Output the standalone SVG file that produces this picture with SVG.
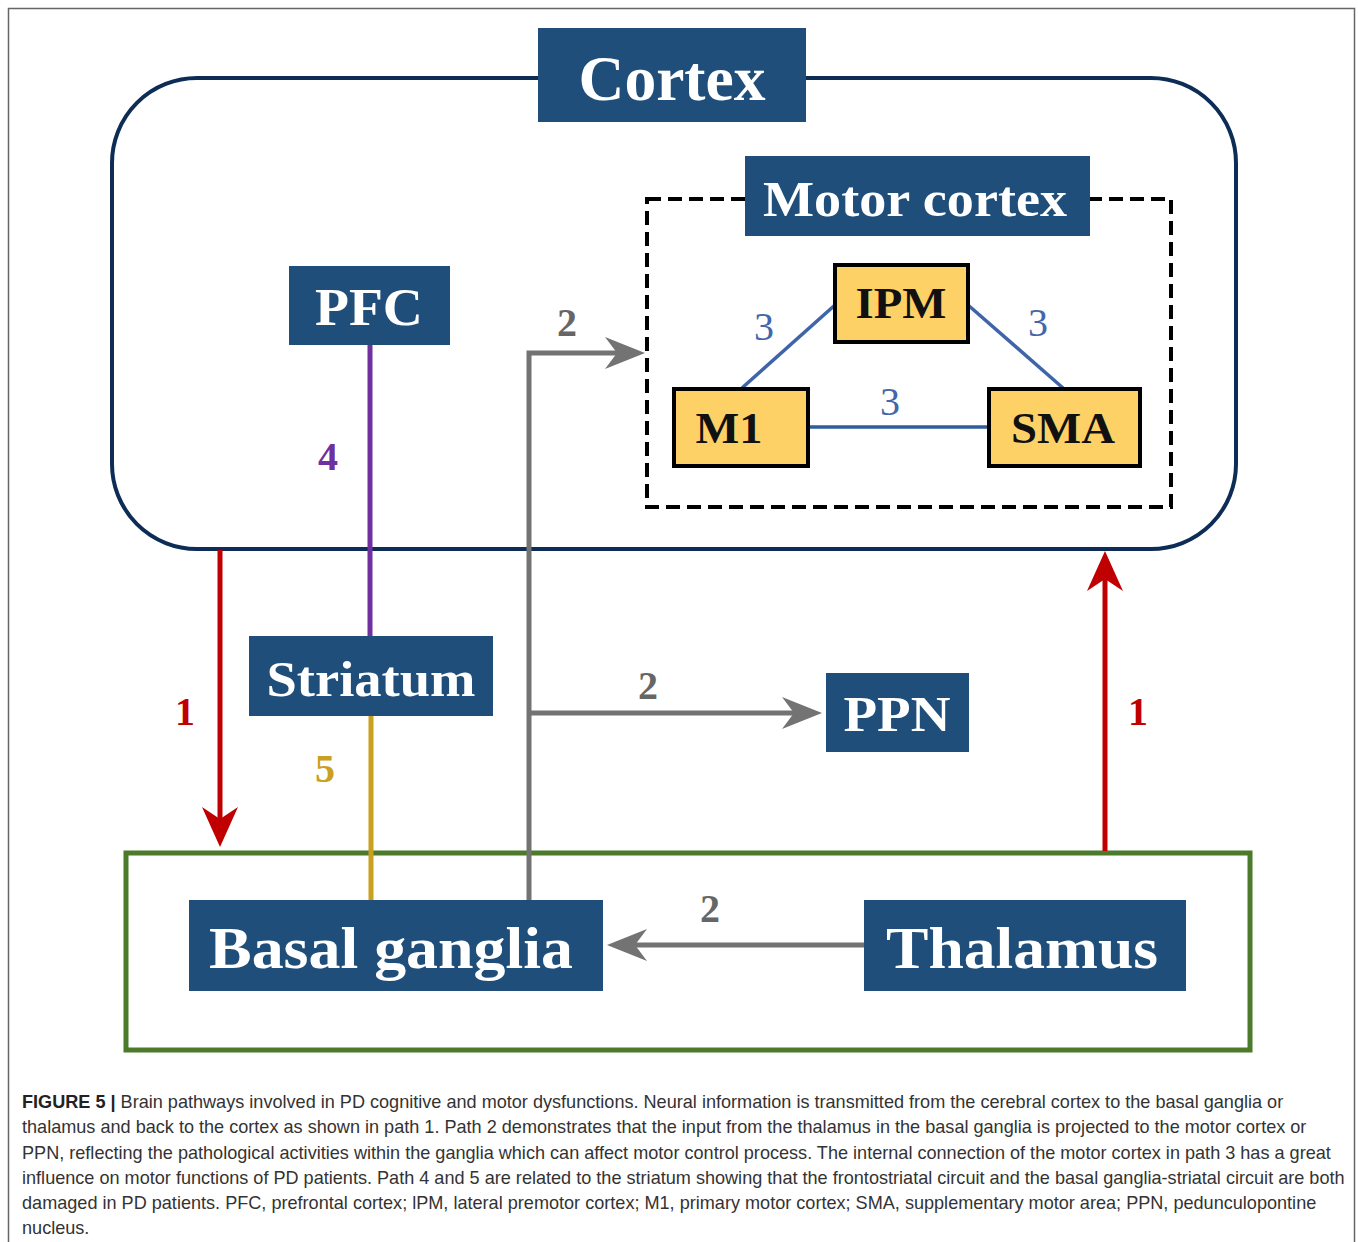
<svg xmlns="http://www.w3.org/2000/svg" width="1358" height="1242" viewBox="0 0 1358 1242">
<style>
.box{fill:#1f4e7a;}
.lbl{font-family:"Liberation Serif",serif;font-weight:bold;fill:#fff;text-anchor:middle;}
.ybox{fill:#fdd166;stroke:#000;stroke-width:4;}
.ylbl{font-family:"Liberation Serif",serif;font-weight:bold;fill:#111;text-anchor:middle;font-size:45px;}
.num{font-family:"Liberation Serif",serif;font-weight:bold;font-size:40px;text-anchor:middle;}
.thin{font-weight:normal;fill:#4466aa;}
.cap{font-family:"Liberation Sans",Arial,sans-serif;font-size:18.1px;fill:#333;}
</style>
<defs>
<marker id="ar" markerUnits="userSpaceOnUse" markerWidth="40" markerHeight="40" viewBox="0 0 40 40" refX="25" refY="20" orient="auto">
<path d="M0,2 L40,20 L0,38 L12,20 z" fill="#c00000"/>
</marker>
<marker id="ag" markerUnits="userSpaceOnUse" markerWidth="40" markerHeight="36" viewBox="0 0 40 36" refX="25" refY="18" orient="auto">
<path d="M0,2 L40,18 L0,34 L12,18 z" fill="#737373"/>
</marker>
</defs>
<rect x="0" y="0" width="1358" height="1242" fill="#fff"/>
<rect x="8.5" y="8.5" width="1346" height="1245" fill="none" stroke="#666" stroke-width="1.5"/>

<g id="cortex-region">
<rect x="112" y="78" width="1124" height="471" rx="85" ry="85" fill="none" stroke="#0d2d57" stroke-width="4"/>
</g>
<g id="motor-cortex-region">
<rect x="647" y="199" width="524" height="308" fill="none" stroke="#000" stroke-width="4" stroke-dasharray="14 7"/>
</g>
<g id="basal-region">
<rect x="126" y="853" width="1124" height="197" fill="none" stroke="#4a7a2a" stroke-width="5"/>
</g>

<g id="connectors" fill="none">
<line x1="835" y1="305" x2="742" y2="388" stroke="#3f64a8" stroke-width="3.5"/>
<line x1="968" y1="305" x2="1063" y2="388" stroke="#3f64a8" stroke-width="3.5"/>
<line x1="808" y1="427" x2="989" y2="427" stroke="#2f5c9a" stroke-width="3.5"/>
<line x1="370" y1="345" x2="370" y2="636" stroke="#7030a0" stroke-width="5"/>
<line x1="371" y1="716" x2="371" y2="900" stroke="#c9a020" stroke-width="5"/>
<line x1="220" y1="550" x2="220" y2="832" stroke="#c00000" stroke-width="5" marker-end="url(#ar)"/>
<line x1="1105" y1="851" x2="1105" y2="566" stroke="#c00000" stroke-width="5" marker-end="url(#ar)"/>
<polyline points="529,900 529,353 630,353" stroke="#737373" stroke-width="5" marker-end="url(#ag)"/>
<line x1="529" y1="713" x2="807" y2="713" stroke="#737373" stroke-width="5" marker-end="url(#ag)"/>
<line x1="864" y1="945" x2="622" y2="945" stroke="#737373" stroke-width="5" marker-end="url(#ag)"/>
<text x="764" y="340" class="num thin">3</text>
<text x="1038" y="336" class="num thin">3</text>
<text x="890" y="415" class="num thin">3</text>
<text x="328" y="470" class="num" fill="#7030a0">4</text>
<text x="325" y="782" class="num" fill="#c9a020">5</text>
<text x="185" y="725" class="num" fill="#c00000">1</text>
<text x="1138" y="725" class="num" fill="#c00000">1</text>
<text x="567" y="336" class="num" fill="#666">2</text>
<text x="648" y="699" class="num" fill="#666">2</text>
<text x="710" y="922" class="num" fill="#666">2</text>
</g>

<g id="cortex">
<rect class="box" x="538" y="28" width="268" height="94"/>
<text class="lbl" x="672" y="100" font-size="64" textLength="187" lengthAdjust="spacingAndGlyphs">Cortex</text>
</g>
<g id="motor-cortex">
<rect class="box" x="745" y="156" width="345" height="80"/>
<text class="lbl" x="915" y="216" font-size="50" textLength="304" lengthAdjust="spacingAndGlyphs">Motor cortex</text>
</g>
<g id="ipm">
<rect class="ybox" x="835" y="265" width="133" height="77"/>
<text class="ylbl" x="901" y="318" textLength="91" lengthAdjust="spacingAndGlyphs">IPM</text>
</g>
<g id="m1">
<rect class="ybox" x="674" y="389" width="134" height="77"/>
<text class="ylbl" x="729" y="443" textLength="67" lengthAdjust="spacingAndGlyphs">M1</text>
</g>
<g id="sma">
<rect class="ybox" x="989" y="389" width="151" height="77"/>
<text class="ylbl" x="1063" y="443" textLength="104" lengthAdjust="spacingAndGlyphs">SMA</text>
</g>
<g id="pfc">
<rect class="box" x="289" y="266" width="161" height="79"/>
<text class="lbl" x="369" y="325" font-size="52" textLength="108" lengthAdjust="spacingAndGlyphs">PFC</text>
</g>
<g id="striatum">
<rect class="box" x="249" y="636" width="244" height="80"/>
<text class="lbl" x="371" y="696" font-size="50" textLength="209" lengthAdjust="spacingAndGlyphs">Striatum</text>
</g>
<g id="ppn">
<rect class="box" x="826" y="673" width="143" height="79"/>
<text class="lbl" x="897" y="731" font-size="50" textLength="107" lengthAdjust="spacingAndGlyphs">PPN</text>
</g>
<g id="basal-ganglia">
<rect class="box" x="189" y="900" width="414" height="91"/>
<text class="lbl" x="391" y="968" font-size="60" textLength="364" lengthAdjust="spacingAndGlyphs">Basal ganglia</text>
</g>
<g id="thalamus">
<rect class="box" x="864" y="900" width="322" height="91"/>
<text class="lbl" x="1022" y="968" font-size="60" textLength="272" lengthAdjust="spacingAndGlyphs">Thalamus</text>
</g>

<g id="caption" class="cap">
<text x="22" y="1108"><tspan font-weight="bold" fill="#222">FIGURE 5 |</tspan> Brain pathways involved in PD cognitive and motor dysfunctions. Neural information is transmitted from the cerebral cortex to the basal ganglia or</text>
<text x="22" y="1133">thalamus and back to the cortex as shown in path 1. Path 2 demonstrates that the input from the thalamus in the basal ganglia is projected to the motor cortex or</text>
<text x="22" y="1159">PPN, reflecting the pathological activities within the ganglia which can affect motor control process. The internal connection of the motor cortex in path 3 has a great</text>
<text x="22" y="1184">influence on motor functions of PD patients. Path 4 and 5 are related to the striatum showing that the frontostriatal circuit and the basal ganglia-striatal circuit are both</text>
<text x="22" y="1209">damaged in PD patients. PFC, prefrontal cortex; lPM, lateral premotor cortex; M1, primary motor cortex; SMA, supplementary motor area; PPN, pedunculopontine</text>
<text x="22" y="1234">nucleus.</text>
</g>
</svg>
